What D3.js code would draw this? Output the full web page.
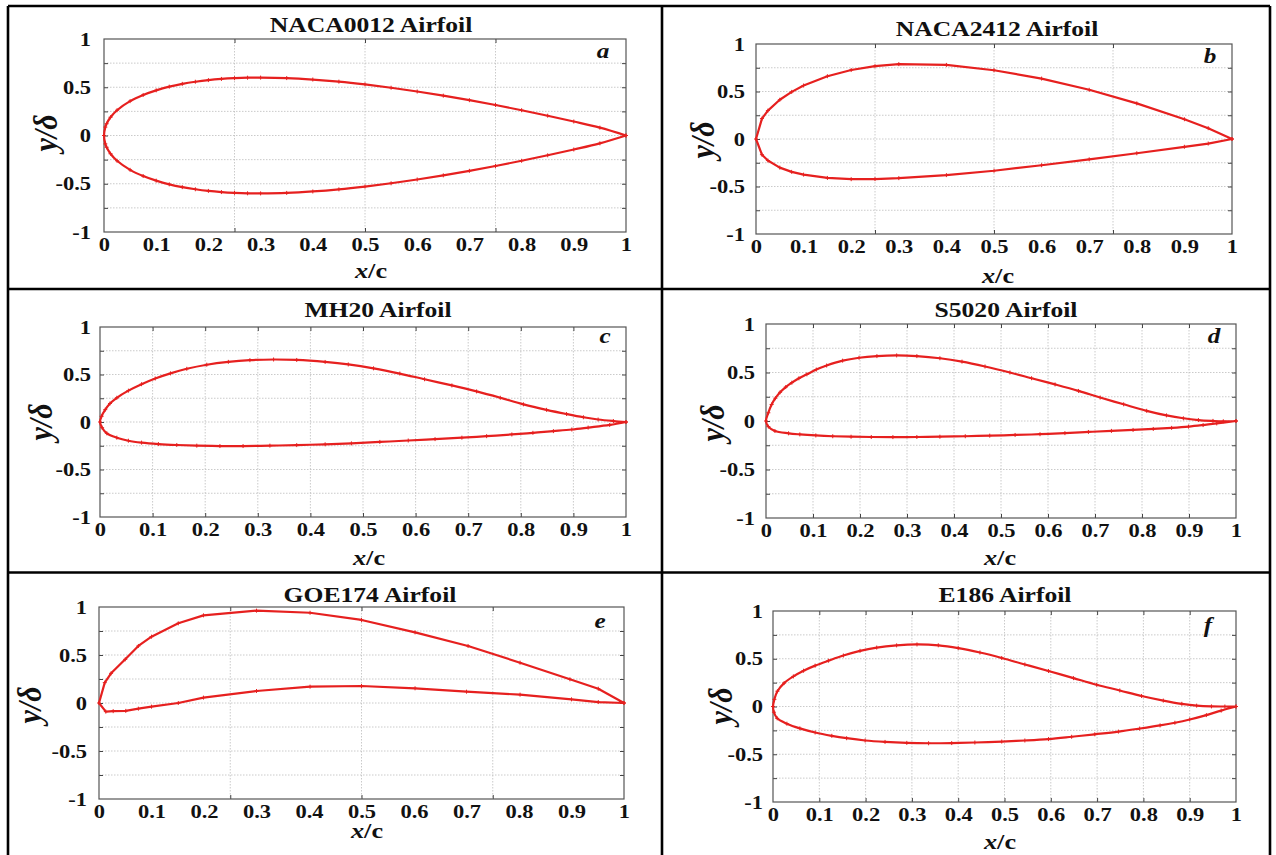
<!DOCTYPE html>
<html>
<head>
<meta charset="utf-8">
<script src="https://cdn.jsdelivr.net/npm/d3@7"></script>
<style>
  body { margin: 0; background: #fff; }
  svg text { font-family: "Liberation Serif", "Times New Roman", serif; font-weight: bold; fill: #111; }
</style>
</head>
<body>
<svg id="chart" width="1276" height="855"></svg>
<script>
// panel titles and corner letters
const titles = ["NACA0012 Airfoil", "NACA2412 Airfoil", "MH20 Airfoil", "S5020 Airfoil", "GOE174 Airfoil", "E186 Airfoil"];
const letters = ["a", "b", "c", "d", "e", "f"];

// tick labels and grid positions
const xTickValues = [0, 0.1, 0.2, 0.3, 0.4, 0.5, 0.6, 0.7, 0.8, 0.9, 1];
const yTickValues = [-1, -0.5, 0, 0.5, 1];
const yTickLabels = ["-1", "-0.5", "0", "0.5", "1"];
const gridCoarse = [0.25, 0.5, 0.75];
const gridFine = [0.1, 0.2, 0.3, 0.4, 0.5, 0.6, 0.7, 0.8, 0.9];
const gridY = [-0.75, -0.5, -0.25, 0, 0.25, 0.5, 0.75];

// NACA0012
const naca0012X = [0, 0.0025, 0.005, 0.0125, 0.025, 0.05, 0.075, 0.1, 0.125, 0.15, 0.175, 0.2, 0.225, 0.25, 0.275, 0.3, 0.35, 0.4, 0.45, 0.5, 0.55, 0.6, 0.65, 0.7, 0.75, 0.8, 0.85, 0.9, 0.95, 1];
const naca0012Upper = [0, 0.087, 0.122, 0.189, 0.262, 0.356, 0.42, 0.468, 0.506, 0.535, 0.557, 0.574, 0.586, 0.594, 0.599, 0.6, 0.595, 0.58, 0.558, 0.529, 0.495, 0.456, 0.413, 0.366, 0.316, 0.262, 0.205, 0.145, 0.081, 0];
const naca0012Lower = [0, -0.087, -0.122, -0.189, -0.262, -0.356, -0.42, -0.468, -0.506, -0.535, -0.557, -0.574, -0.586, -0.594, -0.599, -0.6, -0.595, -0.58, -0.558, -0.529, -0.495, -0.456, -0.413, -0.366, -0.316, -0.262, -0.205, -0.145, -0.081, 0];

// NACA2412 (panel b)
const naca2412X = [0, 0.0125, 0.025, 0.05, 0.075, 0.1, 0.15, 0.2, 0.25, 0.3, 0.4, 0.5, 0.6, 0.7, 0.8, 0.9, 0.95, 1];
const naca2412Upper = [0, 0.215, 0.299, 0.413, 0.496, 0.563, 0.661, 0.726, 0.767, 0.788, 0.78, 0.724, 0.636, 0.518, 0.375, 0.208, 0.114, 0];
const naca2412Lower = [0, -0.165, -0.227, -0.301, -0.346, -0.375, -0.41, -0.423, -0.422, -0.412, -0.38, -0.334, -0.276, -0.214, -0.15, -0.082, -0.048, 0];

// MH20 (panel c)
const mh20UpperX = [0, 0.003, 0.01, 0.019, 0.032, 0.054, 0.079, 0.105, 0.134, 0.165, 0.203, 0.244, 0.285, 0.33, 0.374, 0.428, 0.472, 0.52, 0.57, 0.617, 0.669, 0.716, 0.761, 0.805, 0.849, 0.887, 0.919, 0.947, 0.976, 1];
const mh20UpperY = [0, 0.06, 0.13, 0.195, 0.255, 0.33, 0.398, 0.458, 0.512, 0.56, 0.603, 0.633, 0.651, 0.658, 0.653, 0.632, 0.606, 0.565, 0.51, 0.45, 0.385, 0.322, 0.255, 0.186, 0.128, 0.084, 0.05, 0.026, 0.01, 0];
const mh20LowerX = [0, 0.004, 0.013, 0.032, 0.054, 0.079, 0.111, 0.146, 0.184, 0.228, 0.272, 0.323, 0.374, 0.428, 0.478, 0.532, 0.586, 0.637, 0.688, 0.735, 0.783, 0.823, 0.862, 0.897, 0.928, 0.969, 1];
const mh20LowerY = [0, -0.06, -0.119, -0.165, -0.197, -0.217, -0.232, -0.242, -0.249, -0.253, -0.253, -0.249, -0.243, -0.235, -0.225, -0.21, -0.195, -0.18, -0.165, -0.149, -0.131, -0.114, -0.096, -0.079, -0.059, -0.031, 0];

// S5020 (panel d)
const s5020UpperX = [0, 0.005, 0.012, 0.02, 0.03, 0.042, 0.055, 0.07, 0.087, 0.107, 0.129, 0.163, 0.198, 0.236, 0.278, 0.321, 0.37, 0.417, 0.466, 0.519, 0.565, 0.615, 0.665, 0.711, 0.761, 0.81, 0.852, 0.888, 0.92, 0.951, 0.973, 1];
const s5020UpperY = [0, 0.085, 0.17, 0.235, 0.296, 0.35, 0.395, 0.44, 0.481, 0.53, 0.572, 0.622, 0.652, 0.669, 0.676, 0.669, 0.647, 0.612, 0.562, 0.5, 0.441, 0.377, 0.31, 0.242, 0.172, 0.105, 0.058, 0.028, 0.01, 0.001, -0.003, 0];
const s5020LowerX = [0, 0.005, 0.019, 0.048, 0.072, 0.106, 0.142, 0.181, 0.224, 0.27, 0.321, 0.37, 0.424, 0.476, 0.53, 0.583, 0.636, 0.686, 0.735, 0.781, 0.824, 0.863, 0.899, 0.93, 0.959, 1];
const s5020LowerY = [0, -0.058, -0.103, -0.127, -0.138, -0.149, -0.157, -0.162, -0.165, -0.166, -0.165, -0.162, -0.157, -0.151, -0.144, -0.136, -0.125, -0.113, -0.102, -0.092, -0.082, -0.071, -0.058, -0.042, -0.025, 0];

// GOE174 (panel e)
const goe174UpperX = [0, 0.011, 0.023, 0.05, 0.075, 0.1, 0.151, 0.199, 0.3, 0.402, 0.5, 0.602, 0.703, 0.802, 0.897, 0.951, 1];
const goe174UpperY = [0, 0.212, 0.309, 0.455, 0.594, 0.691, 0.83, 0.913, 0.962, 0.94, 0.865, 0.736, 0.594, 0.42, 0.247, 0.149, 0];
const goe174LowerX = [0, 0.013, 0.027, 0.051, 0.075, 0.1, 0.151, 0.199, 0.3, 0.402, 0.5, 0.602, 0.7, 0.802, 0.9, 0.951, 1];
const goe174LowerY = [0, -0.09, -0.085, -0.082, -0.059, -0.038, 0, 0.056, 0.125, 0.17, 0.177, 0.153, 0.118, 0.087, 0.038, 0.01, 0];

// E186 (panel f)
const e186UpperX = [0, 0.003, 0.0095, 0.024, 0.044, 0.066, 0.091, 0.12, 0.152, 0.188, 0.224, 0.267, 0.311, 0.357, 0.4, 0.447, 0.494, 0.544, 0.595, 0.649, 0.699, 0.749, 0.796, 0.843, 0.883, 0.915, 0.947, 0.976, 1];
const e186UpperY = [0, 0.075, 0.16, 0.245, 0.315, 0.375, 0.428, 0.48, 0.534, 0.583, 0.617, 0.64, 0.65, 0.641, 0.612, 0.565, 0.508, 0.44, 0.372, 0.297, 0.228, 0.168, 0.11, 0.062, 0.028, 0.009, 0.001, 0, 0];
const e186LowerX = [0, 0.002, 0.009, 0.03, 0.058, 0.091, 0.127, 0.159, 0.199, 0.242, 0.289, 0.336, 0.386, 0.436, 0.494, 0.544, 0.595, 0.645, 0.695, 0.746, 0.792, 0.836, 0.868, 0.9, 0.936, 0.968, 1];
const e186LowerY = [0, -0.06, -0.124, -0.18, -0.229, -0.272, -0.307, -0.332, -0.356, -0.371, -0.381, -0.385, -0.383, -0.377, -0.367, -0.356, -0.341, -0.317, -0.291, -0.263, -0.231, -0.198, -0.17, -0.136, -0.09, -0.043, 0];

const airfoils = [
  { ux: naca0012X, uy: naca0012Upper, lx: naca0012X, ly: naca0012Lower },
  { ux: naca2412X, uy: naca2412Upper, lx: naca2412X, ly: naca2412Lower },
  { ux: mh20UpperX, uy: mh20UpperY, lx: mh20LowerX, ly: mh20LowerY },
  { ux: s5020UpperX, uy: s5020UpperY, lx: s5020LowerX, ly: s5020LowerY },
  { ux: goe174UpperX, uy: goe174UpperY, lx: goe174LowerX, ly: goe174LowerY },
  { ux: e186UpperX, uy: e186UpperY, lx: e186LowerX, ly: e186LowerY }
];

// layout of each cell (pixel boxes of the plot areas and label spots)
const layout = [
  { l: 104, r: 626, t: 39, b: 232, titleX: 371, titleY: 32, letter: [603, 58], xlab: [371, 278], ylab: [47, 133], yPad: 13, grid: gridCoarse, smooth: true },
  { l: 756, r: 1232, t: 44, b: 234, titleX: 997, titleY: 36, letter: [1210, 63], xlab: [998, 283], ylab: [704, 140], yPad: 11, grid: gridCoarse, smooth: false },
  { l: 100, r: 626, t: 327, b: 517, titleX: 378, titleY: 317, letter: [605, 343], xlab: [369, 565], ylab: [42, 422], yPad: 9, grid: gridFine, smooth: true },
  { l: 766, r: 1236, t: 324, b: 518, titleX: 1006, titleY: 317, letter: [1214, 343], xlab: [1000, 565], ylab: [714, 423], yPad: 11, grid: gridFine, smooth: true },
  { l: 99, r: 624, t: 607, b: 799, titleX: 370, titleY: 602, letter: [600, 628], xlab: [367, 838], ylab: [31, 705], yPad: 12, grid: gridCoarse, smooth: false },
  { l: 773, r: 1236, t: 611, b: 802, titleX: 1005, titleY: 602, letter: [1208, 632], xlab: [1000, 849], ylab: [722, 706], yPad: 10, grid: gridFine, smooth: true }
];

const stretch = 1.25;   // the reference text is drawn wide
const red = "#e6201f";

const svg = d3.select("#chart");
svg.append("rect").attr("width", 1276).attr("height", 855).attr("fill", "#fff");

// Draws one airfoil panel
function drawPanel(i) {
  const L = layout[i];
  const foil = airfoils[i];
  const g = svg.append("g");

  const x = d3.scaleLinear().domain([0, 1]).range([L.l, L.r]);
  const y = d3.scaleLinear().domain([-1, 1]).range([L.b, L.t]);

  // dotted grid
  g.append("g").selectAll("line").data(L.grid).enter().append("line")
    .attr("x1", d => x(d)).attr("x2", d => x(d))
    .attr("y1", L.t).attr("y2", L.b)
    .attr("stroke", "#bdbdbd").attr("stroke-width", 0.8).attr("stroke-dasharray", "1.5,1.5");
  g.append("g").selectAll("line").data(gridY).enter().append("line")
    .attr("x1", L.l).attr("x2", L.r)
    .attr("y1", d => y(d)).attr("y2", d => y(d))
    .attr("stroke", "#bdbdbd").attr("stroke-width", 0.8).attr("stroke-dasharray", "1.5,1.5");

  // inward ticks on all four sides
  const tickSides = [
    [d3.axisBottom(x).tickValues(L.grid), `translate(0,${L.b})`],
    [d3.axisTop(x).tickValues(L.grid), `translate(0,${L.t})`],
    [d3.axisLeft(y).tickValues(gridY), `translate(${L.l},0)`],
    [d3.axisRight(y).tickValues(gridY), `translate(${L.r},0)`]
  ];
  for (const [ax, tr] of tickSides) {
    const a = g.append("g").attr("transform", tr)
      .call(ax.tickSize(-4).tickFormat(""));
    a.select(".domain").remove();
    a.selectAll("line").attr("stroke", "#444");
  }

  // box
  g.append("rect")
    .attr("x", L.l).attr("y", L.t)
    .attr("width", L.r - L.l).attr("height", L.b - L.t)
    .attr("fill", "none").attr("stroke", "#555").attr("stroke-width", 1.2);

  // x tick labels
  const xa = g.append("g").attr("transform", `translate(0,${L.b})`)
    .call(d3.axisBottom(x).tickValues(xTickValues).tickSize(0).tickFormat(d3.format("")));
  xa.select(".domain").remove();
  xa.attr("font-size", null).attr("font-family", null);
  xa.selectAll("text")
    .attr("y", null).attr("dy", null)
    .attr("transform", `translate(0,19) scale(${stretch},1)`)
    .style("font-size", "18px");

  // y tick labels
  const ya = g.append("g").attr("transform", `translate(${L.l},0)`)
    .call(d3.axisLeft(y).tickValues(yTickValues).tickSize(0).tickFormat((d, k) => yTickLabels[k]));
  ya.select(".domain").remove();
  ya.attr("font-size", null).attr("font-family", null);
  ya.selectAll("text")
    .attr("x", null).attr("dy", null)
    .attr("transform", `translate(${-L.yPad},6) scale(${stretch},1)`)
    .style("font-size", "18px");

  // airfoil outline: upper surface from trailing edge to nose, then lower surface back
  const upper = foil.ux.map((v, k) => [v, foil.uy[k]]).reverse();
  const lower = foil.lx.map((v, k) => [v, foil.ly[k]]);
  const pts = upper.concat(lower.slice(1));

  const line = d3.line().x(d => x(d[0])).y(d => y(d[1]))
    .curve(L.smooth ? d3.curveCatmullRom.alpha(0.5) : d3.curveLinear);
  g.append("path").datum(pts)
    .attr("d", line)
    .attr("fill", "none").attr("stroke", red).attr("stroke-width", 2.2)
    .attr("stroke-linejoin", "round");

  // small plus markers at the points
  g.append("g").selectAll("path").data(pts).enter().append("path")
    .attr("d", d => `M${x(d[0]) - 2},${y(d[1])}h4M${x(d[0])},${y(d[1]) - 2}v4`)
    .attr("stroke", red).attr("stroke-width", 1);

  // title
  g.append("text")
    .attr("transform", `translate(${L.titleX},${L.titleY}) scale(1.22,1)`)
    .attr("text-anchor", "middle").style("font-size", "21px")
    .text(titles[i]);

  // corner letter
  g.append("text")
    .attr("transform", `translate(${L.letter[0]},${L.letter[1]}) scale(1.2,1)`)
    .attr("text-anchor", "middle").style("font-size", "21px").style("font-style", "italic")
    .text(letters[i]);

  // x axis label
  const xl = g.append("text")
    .attr("transform", `translate(${L.xlab[0]},${L.xlab[1]}) scale(${stretch},1)`)
    .attr("text-anchor", "middle").style("font-size", "21px");
  xl.append("tspan").style("font-style", "italic").text("x");
  xl.append("tspan").text("/c");

  // y axis label
  g.append("text")
    .attr("transform", `translate(${L.ylab[0] + 10},${L.ylab[1]}) rotate(-90) scale(1,1.15)`)
    .attr("text-anchor", "middle").style("font-size", "30px").style("font-style", "italic")
    .text("y/δ");
}

for (let i = 0; i < 6; i++) drawPanel(i);

// table borders
const borderX = [8, 662, 1270];
const borderY = [6, 289, 572.5, 870];
const bg = svg.append("g").attr("stroke", "#000").attr("stroke-width", 2.6);
for (const bx of borderX) {
  bg.append("line").attr("x1", bx).attr("x2", bx).attr("y1", borderY[0]).attr("y2", borderY[3]);
}
for (const by of borderY) {
  bg.append("line").attr("x1", borderX[0]).attr("x2", borderX[2]).attr("y1", by).attr("y2", by);
}
</script>
</body>
</html>
